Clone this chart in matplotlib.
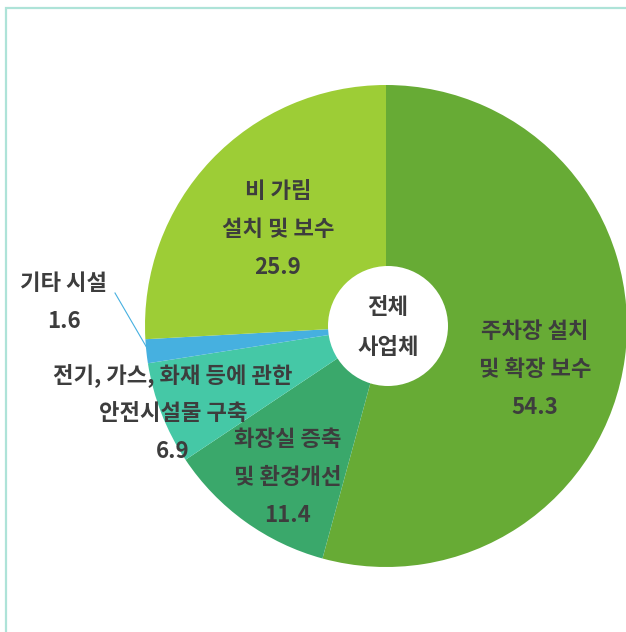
import matplotlib.pyplot as plt
from matplotlib.patches import Rectangle, Circle

plt.rcParams['font.family'] = ['Noto Sans CJK KR', 'DejaVu Sans']

# data (clockwise from 12 o'clock)
labels = [['주차장 설치', '및 확장 보수'], ['화장실 증축', '및 환경개선'],
          ['전기, 가스, 화재 등에 관한', '안전시설물 구축'], ['기타 시설'], ['비 가림', '설치 및 보수']]
values = [54.3, 11.4, 6.9, 1.6, 25.9]
colors = ['#67ab35', '#3aa86b', '#45c8a6', '#46b0e0', '#9dcd36']

# label first-line positions in pixels (x, y from top)
label_pos = [(535, 332), (288, 440), (173, 375), (64, 284), (278, 191)]
line_gap = 38

W, H = 626, 632
fig = plt.figure(figsize=(W / 100, H / 100), dpi=100)
ax = fig.add_axes([0, 0, 1, 1])

# outer frame (runs off right and bottom)
ax.add_patch(Rectangle((5.5, -20), 700, H - 8 + 20, fill=False, edgecolor='#aee3d8', lw=1.6))

cx, cy, r = 386, H - 326, 241
ax.pie(values, colors=colors, startangle=90, counterclock=False, center=(cx, cy), radius=r,
       wedgeprops=dict(linewidth=0), frame=True)
ax.set_xlim(0, W)
ax.set_ylim(0, H)
ax.set_aspect('equal')
ax.axis('off')
ax.add_patch(Circle((cx + 2, cy), 60, facecolor='white', edgecolor='none', zorder=5))
for i, t in enumerate(['전체', '사업체']):
    ax.text(cx + 2, H - 307 - i * 41, t, ha='center', va='center', fontsize=16,
            color='#3d3d3d', fontweight='bold', zorder=6)

for lab, v, (x, y) in zip(labels, values, label_pos):
    for i, t in enumerate(lab + [f'{v}']):
        ax.text(x, H - y - i * line_gap, t, ha='center', va='center', fontsize=16,
                color='#3d3d3d', fontweight='bold', zorder=6)

# leader line for the small slice
ax.plot([115, 147], [H - 293, H - 348], color='#46b0e0', lw=0.8, zorder=6)

fig.savefig('out.png', dpi=100)
